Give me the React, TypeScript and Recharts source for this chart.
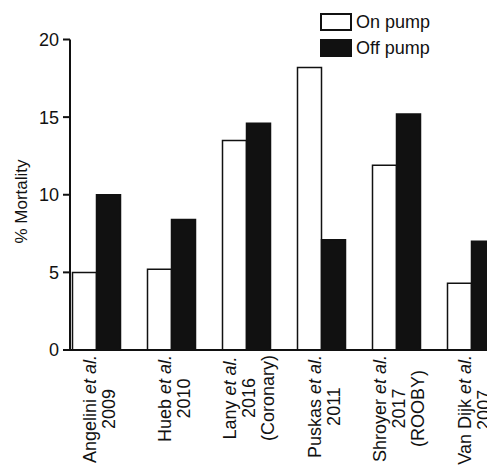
import React from 'react';
import { BarChart, Bar, XAxis, YAxis } from 'recharts';

const STUDIES = ['Angelini', 'Hueb', 'Lany', 'Puskas', 'Shroyer', 'Van Dijk'];
const YEARS = ['2009', '2010', '2016', '2011', '2017', '2007'];
const NOTES = ['', '', '(Coronary)', '', '(ROOBY)', ''];
const ON_PUMP = [5.0, 5.2, 13.5, 18.2, 11.9, 4.3];
const OFF_PUMP = [10.0, 8.4, 14.6, 7.1, 15.2, 7.0];
const Y_TICKS = [0, 5, 10, 15, 20];
const SERIES = ['On pump', 'Off pump'];

const FONT = "'Liberation Sans', Arial, Helvetica, sans-serif";
const INK = '#111';

const data = STUDIES.map((s, i) => ({ study: s, on: ON_PUMP[i], off: OFF_PUMP[i] }));

let ctx: CanvasRenderingContext2D | null = null;
function textWidth(t: string, italic = false) {
  if (!ctx) ctx = document.createElement('canvas').getContext('2d');
  if (!ctx) return t.length * 9;
  ctx.font = `${italic ? 'italic ' : ''}18px ${FONT}`;
  return ctx.measureText(t).width;
}

type Seg = { t: string; italic?: boolean };

function CategoryTick(props: any) {
  const { x, y, payload } = props;
  const i = STUDIES.indexOf(payload.value);
  const lines: Seg[][] = [[{ t: STUDIES[i] + ' ' }, { t: 'et al.', italic: true }], [{ t: YEARS[i] }]];
  if (NOTES[i]) lines.push([{ t: NOTES[i] }]);
  const widths = lines.map(l => l.reduce((w, s) => w + textWidth(s.t, s.italic), 0));
  const maxW = Math.max(...widths);
  const cy = y + 5 + maxW / 2;
  const n = lines.length;
  return (
    <g>
      {lines.map((l, k) => {
        const bx = x + 3 + (k - (n - 1) / 2) * 19 + 6.5;
        return (
          <text key={k} x={bx} y={cy} transform={`rotate(-90, ${bx}, ${cy})`} textAnchor="middle"
            fontSize={18} fontFamily={FONT} fill={INK}>
            {l.map((s, j) => (
              <tspan key={j} fontStyle={s.italic ? 'italic' : 'normal'}>{s.t}</tspan>
            ))}
          </text>
        );
      })}
    </g>
  );
}

export default function App() {
  return (
    <div style={{ position: 'relative', width: 487, height: 459, overflow: 'hidden', fontFamily: FONT }}>
      <BarChart width={510} height={459} data={data} margin={{ top: 31.5, right: 0, bottom: 0, left: 0 }}
        barSize={24} barGap={0}>
        <XAxis dataKey="study" height={117} padding={{ left: -11.5, right: 9.5 }} tickLine={false}
          tickSize={0} tickMargin={0} interval={0} tick={<CategoryTick />}
          axisLine={{ stroke: INK, strokeWidth: 2 }} />
        <YAxis width={62} domain={[0, 20]} ticks={Y_TICKS} tickSize={7} tickMargin={4}
          tick={{ fontSize: 18, fill: INK, fontFamily: FONT }}
          axisLine={{ stroke: INK, strokeWidth: 2 }} tickLine={{ stroke: INK, strokeWidth: 2 }}
          label={{
            content: () => (
              <text x={19} y={193.5} transform="rotate(-90, 19, 193.5)" textAnchor="middle"
                fontSize={17} fontFamily={FONT} fill={INK}>% Mortality</text>
            ),
          }} />
        <Bar dataKey="on" name={SERIES[0]} fill="#fff" stroke={INK} strokeWidth={1.5} isAnimationActive={false} />
        <Bar dataKey="off" name={SERIES[1]} fill={INK} stroke={INK} strokeWidth={1.5} isAnimationActive={false} />
      </BarChart>
      <div style={{ position: 'absolute', left: 312, top: 5, fontSize: 18, color: INK, lineHeight: '18px' }}>
        {SERIES.map((s, i) => (
          <div key={s} style={{ display: 'flex', alignItems: 'center', marginBottom: 8 }}>
            <span style={{
              display: 'inline-block', width: 32, height: 18, boxSizing: 'border-box',
              border: `2px solid ${INK}`, background: i === 0 ? '#fff' : INK, marginRight: 4,
            }} />
            <span>{s}</span>
          </div>
        ))}
      </div>
    </div>
  );
}
